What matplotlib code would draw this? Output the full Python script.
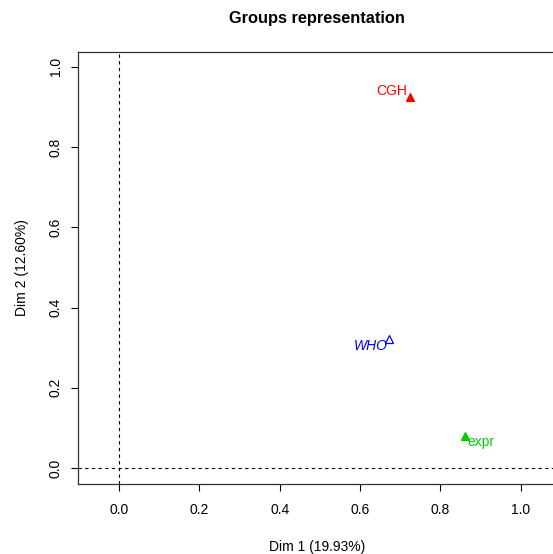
import matplotlib
matplotlib.use("Agg")
import matplotlib.pyplot as plt

plt.rcParams['font.family'] = ['Liberation Sans', 'DejaVu Sans']

groups = ["CGH", "WHO", "expr"]
dim1 = [0.723, 0.671, 0.860]
dim2 = [0.925, 0.322, 0.080]
colors = ["#FF0000", "#0000FF", "#00CD00"]
filled = [True, False, True]
italic = [False, True, False]
# label offsets in pixels (text alignment relative to the point)
offsets = [(-2, 6, "right"), (-1, -7, "right"), (3, -6, "left")]

fig = plt.figure(figsize=(5.53, 5.54), dpi=100)
ax = fig.add_axes([0.141, 0.1264, 0.866, 0.78])

ax.axvline(0, color="black", linestyle=(0, (3, 3)), linewidth=0.8)
ax.axhline(0, color="black", linestyle=(0, (3, 3)), linewidth=0.8)

for g, x, y, c, f, it, (dx, dy, ha) in zip(groups, dim1, dim2, colors, filled, italic, offsets):
    ax.plot(x, y, marker="^", markersize=5.5, color=c,
            markerfacecolor=c if f else "none", markeredgewidth=0.9, linestyle="none")
    ax.annotate(g, (x, y), xytext=(dx, dy), textcoords="offset pixels",
                ha=ha, va="center", color=c, fontsize=10,
                style="italic" if it else "normal")

ax.set_xlim(-0.1022, 1.0898)
ax.set_ylim(-0.0399, 1.0374)
ax.set_xticks([0.0, 0.2, 0.4, 0.6, 0.8, 1.0])
ax.set_yticks([0.0, 0.2, 0.4, 0.6, 0.8, 1.0])
ax.set_xticklabels(["0.0", "0.2", "0.4", "0.6", "0.8", "1.0"])
ax.set_yticklabels(["0.0", "0.2", "0.4", "0.6", "0.8", "1.0"], rotation=90, va="center")
ax.tick_params(length=5, width=0.8, labelsize=10)
ax.tick_params(axis="x", pad=9)
ax.tick_params(axis="y", pad=6)

for s in ax.spines.values():
    s.set_linewidth(0.9)
    s.set_color("#333333")

ax.set_xlabel("Dim 1 (19.93%)", fontsize=10, labelpad=16)
ax.set_ylabel("Dim 2 (12.60%)", fontsize=10, labelpad=14)
ax.set_title("Groups representation", fontsize=11.8, fontweight="bold", pad=21)

fig.savefig("out.png", dpi=100)
